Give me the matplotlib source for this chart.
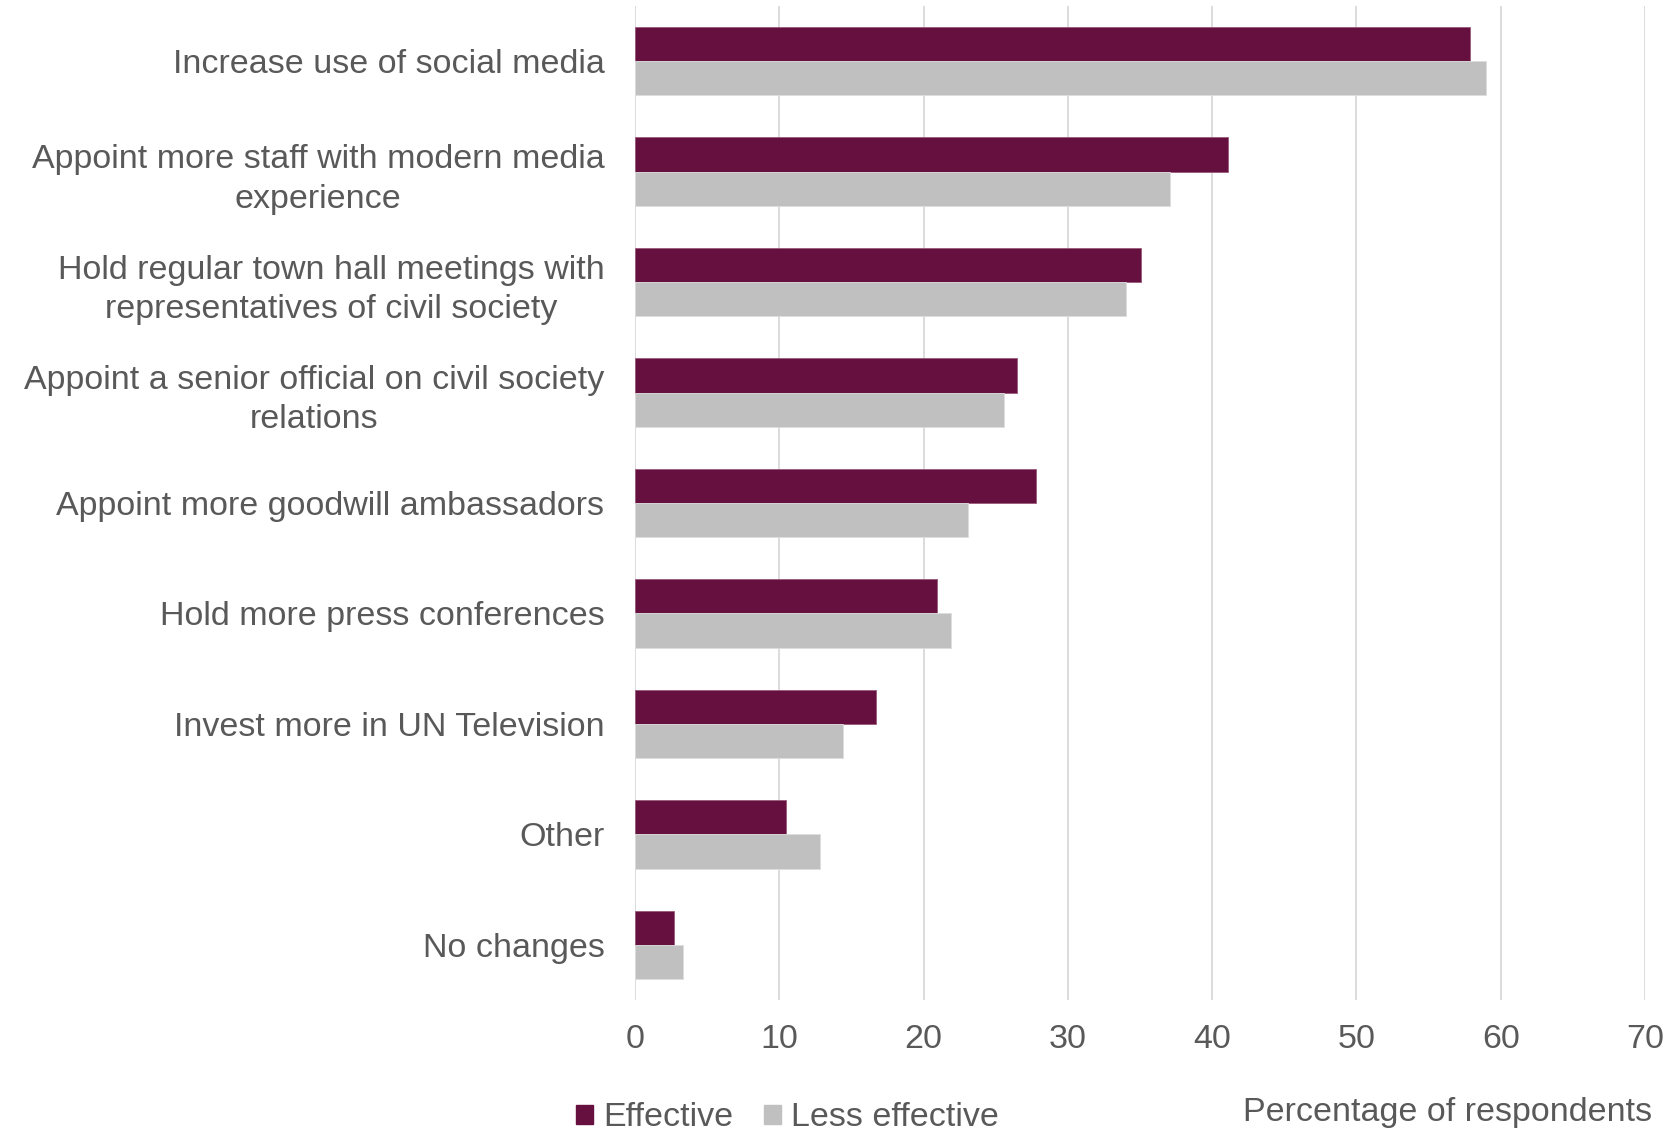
import matplotlib.pyplot as plt
from matplotlib.patches import Patch
import numpy as np

categories = [
    'Increase use of social media',
    'Appoint more staff with modern media\nexperience',
    'Hold regular town hall meetings with\nrepresentatives of civil society',
    'Appoint a senior official on civil society\nrelations',
    'Appoint more goodwill ambassadors',
    'Hold more press conferences',
    'Invest more in UN Television',
    'Other',
    'No changes',
]
effective = [57.9, 41.1, 35.1, 26.5, 27.8, 20.9, 16.7, 10.5, 2.7]
less_effective = [59.0, 37.1, 34.0, 25.6, 23.1, 21.9, 14.4, 12.8, 3.3]
xticks = [0, 10, 20, 30, 40, 50, 60, 70]

c_eff = '#66103F'
c_less = '#C0C0C0'
c_text = '#595959'
fontsize = 24.5

plt.rcParams['font.family'] = ['Liberation Sans', 'DejaVu Sans']

fig = plt.figure(figsize=(16.74, 11.34), dpi=100)
ax = fig.add_axes([635/1674, 1 - 1000/1134, (1645 - 635)/1674, 994/1134])

y = np.arange(len(categories))
h = 0.31
ax.barh(y - h/2, effective, height=h, color=c_eff, edgecolor='#9a5a7a', linewidth=0.6, zorder=3)
ax.barh(y + h/2, less_effective, height=h, color=c_less, edgecolor='#dddddd', linewidth=0.6, zorder=3)

ax.set_ylim(len(categories) - 0.5, -0.5)
ax.set_xlim(0, 70)
ax.set_xticks(xticks)
ax.set_yticks(y)
ax.set_yticklabels(categories, multialignment='center', linespacing=1.35)
ax.tick_params(axis='y', length=0, pad=22, labelsize=fontsize, labelcolor=c_text)
ax.tick_params(axis='x', length=0, pad=17, labelsize=fontsize, labelcolor=c_text)
ax.xaxis.grid(True, color='#D9D9D9', linewidth=1.3, zorder=0)
for s in ax.spines.values():
    s.set_visible(False)

handles = [Patch(color=c_eff, label='Effective'), Patch(color=c_less, label='Less effective')]
fig.legend(handles=handles, loc='center left', bbox_to_anchor=(576/1674, 1 - 1118/1134), ncol=2,
           frameon=False, fontsize=fontsize, labelcolor=c_text, handlelength=0.5, handleheight=0.5,
           handletextpad=0.3, columnspacing=0.9, borderpad=0, borderaxespad=0)
fig.text(1652/1674, 1 - 1113/1134, 'Percentage of respondents', ha='right', va='center',
         fontsize=fontsize, color=c_text)

fig.savefig('out.png', dpi=100)
